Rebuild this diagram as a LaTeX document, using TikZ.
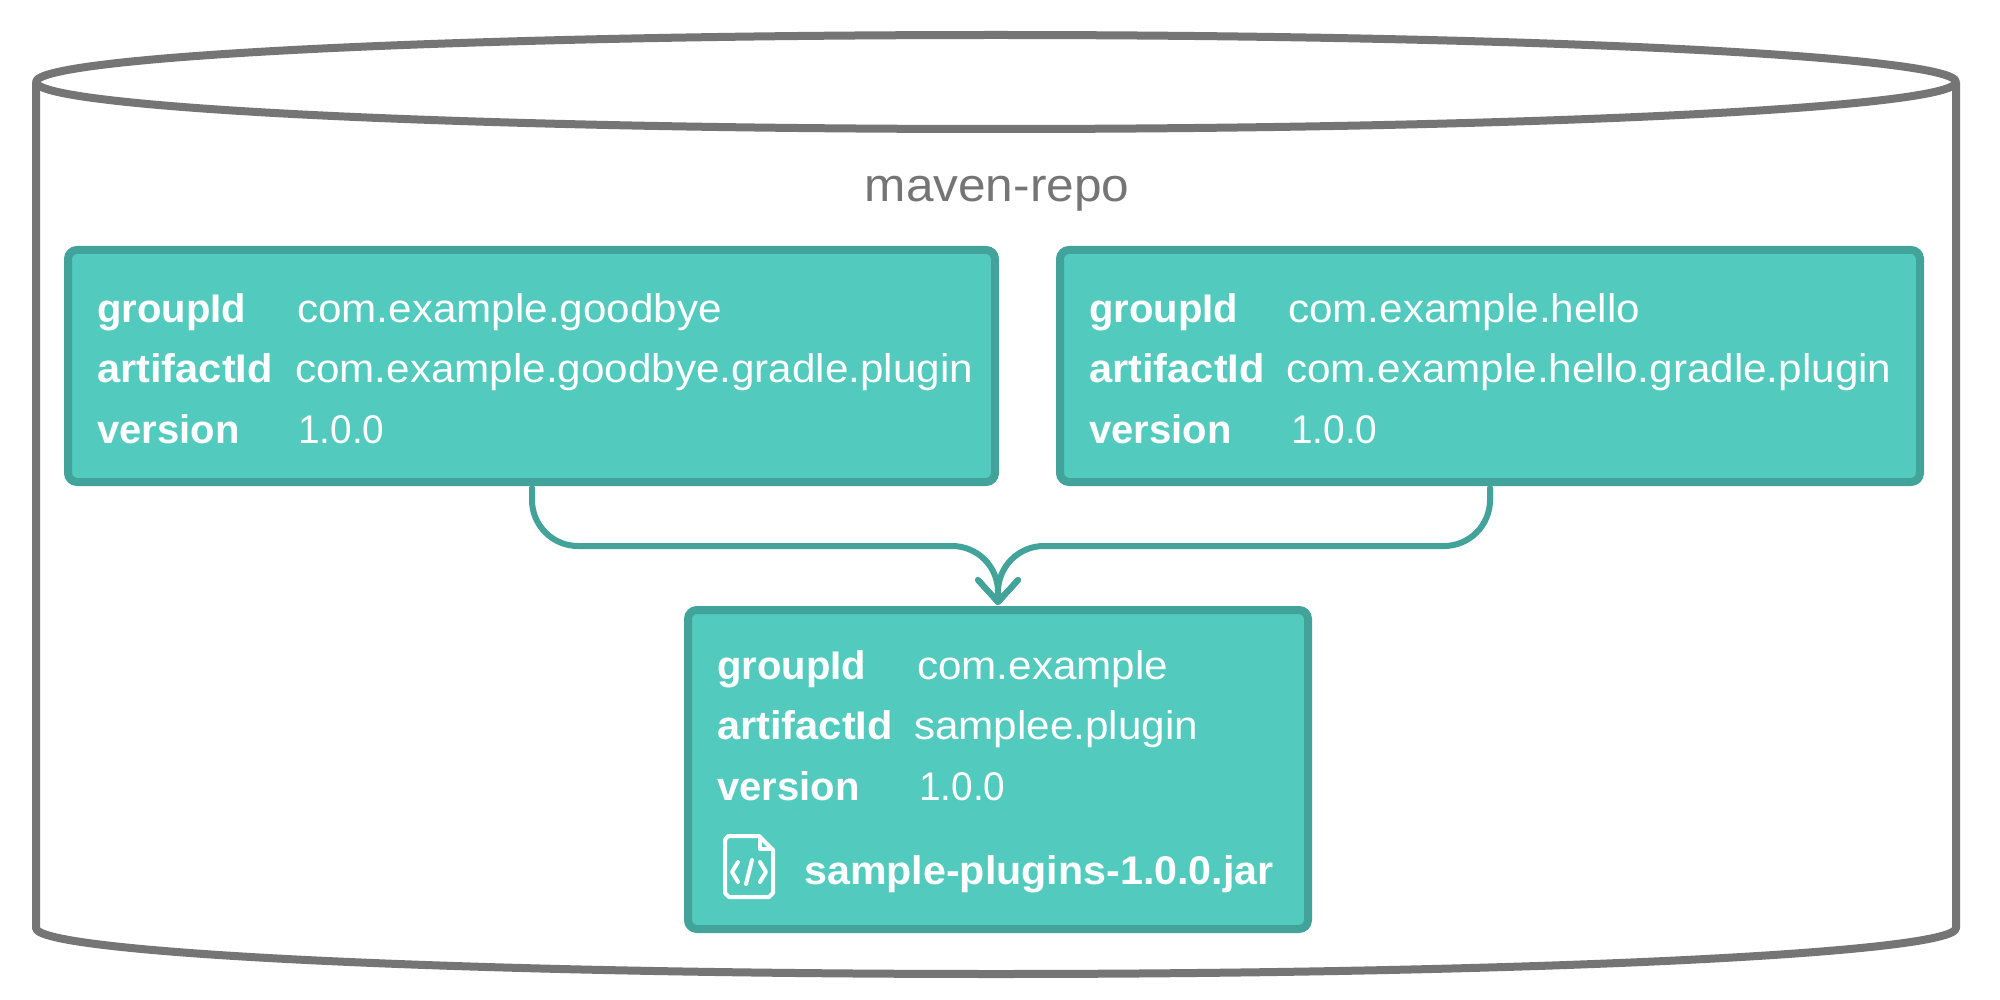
\documentclass[tikz,border=0pt]{standalone}
\usepackage{fontspec}
\setmainfont{Liberation Sans}
\newfontfamily\valfont[FakeStretch=1.055]{Liberation Sans}
\newfontfamily\numfont[FakeStretch=0.97]{Liberation Sans}
\newfontfamily\keyfont[FakeStretch=1.04]{Liberation Sans}
\newfontfamily\jarfont[FakeStretch=1.03]{Liberation Sans}
\usetikzlibrary{arrows.meta}
\definecolor{cyl}{HTML}{757575}
\definecolor{boxfill}{HTML}{52CBBE}
\definecolor{boxline}{HTML}{41A399}
\tikzset{
  box/.style={draw=boxline,fill=boxfill,line width=8pt,rounded corners=9pt,inner sep=0pt,outer sep=0pt},
  keytxt/.style={anchor=base west,inner sep=0pt,text=white,font=\keyfont\fontsize{40}{40}\selectfont\bfseries},
  shortkey/.style={anchor=base west,inner sep=0pt,text=white,font=\fontsize{40}{40}\selectfont\bfseries},
  jartxt/.style={anchor=base west,inner sep=0pt,text=white,font=\jarfont\fontsize{40}{40}\selectfont\bfseries},
  valtxt/.style={anchor=base west,inner sep=0pt,text=white,font=\valfont\fontsize{40}{40}\selectfont},
  numtxt/.style={anchor=base west,inner sep=0pt,text=white,font=\numfont\fontsize{40}{40}\selectfont},
  conn/.style={draw=boxline,line width=6pt,line cap=round,rounded corners=46pt,
    -{Straight Barb[length=22pt,width=40pt,round]}},
  cylline/.style={draw=cyl,line width=8pt,line join=round},
  iconline/.style={draw=white,line width=4pt,line cap=round,line join=round}
}
\begin{document}
\begin{tikzpicture}[x=1pt,y=-1pt]
\useasboundingbox[fill=white] (0,0) rectangle (2000,1000);
% cylinder
\draw[cylline] (36,82) -- (36,928) arc[start angle=180,end angle=0,x radius=960,y radius=46] -- (1956,82);
\draw[cylline] (996,82) ellipse[x radius=960,y radius=47];
\node[anchor=base,inner sep=0pt,text=cyl,font=\valfont\fontsize{47}{47}\selectfont] (title) at (997,202) {maven-repo};
% boxes
\node[box,minimum width=927pt,minimum height=232pt] (left) at (531.5,366) {};
\node[box,minimum width=860pt,minimum height=232pt] (right) at (1490,366) {};
\node[box,minimum width=620pt,minimum height=319pt] (mid) at (998,769.5) {};
% left text
\node[shortkey] (lk1) at (97,323) {groupId};
\node[keytxt] (lk2) at (97,382) {artifactId};
\node[shortkey] (lk3) at (97,443) {version};
\node[valtxt] (lv1) at (297,323) {com.example.goodbye};
\node[valtxt] (lv2) at (295,382) {com.example.goodbye.gradle.plugin};
\node[numtxt] (lv3) at (298,443) {1.0.0};
% right text
\node[shortkey] (rk1) at (1089,323) {groupId};
\node[keytxt] (rk2) at (1089,382) {artifactId};
\node[shortkey] (rk3) at (1089,443) {version};
\node[valtxt] (rv1) at (1288,323) {com.example.hello};
\node[valtxt] (rv2) at (1286,382) {com.example.hello.gradle.plugin};
\node[numtxt] (rv3) at (1291,443) {1.0.0};
% mid text
\node[shortkey] (mk1) at (717,679) {groupId};
\node[keytxt] (mk2) at (717,739) {artifactId};
\node[shortkey] (mk3) at (717,800) {version};
\node[valtxt] (mv1) at (917,679) {com.example};
\node[valtxt] (mv2) at (914,739) {samplee.plugin};
\node[numtxt] (mv3) at (919,800) {1.0.0};
\node[jartxt] (jar) at (804,884) {sample-plugins-1.0.0.jar};
% icon
\draw[iconline] (728,836) -- (759,836) -- (773,850) -- (773,893) -- (769,897) -- (729,897) -- (725,893) -- (725,840) -- cycle;
\draw[iconline] (760,837) -- (760,849) -- (772,849);
\draw[iconline] (738,862) -- (732,872) -- (738,882);
\draw[iconline] (760,862) -- (766,872) -- (760,882);
\draw[iconline] (752,860) -- (746,884);
% connectors
\coordinate (sl) at (532,488);
\coordinate (sr) at (1490,488);
\coordinate (bus) at (998,546);
\draw[conn,shorten >=5pt] (sl) -- (sl |- bus) -- (bus -| mid.north) -- (mid.north);
\draw[conn,shorten >=5pt] (sr) -- (sr |- bus) -- (bus -| mid.north) -- (mid.north);
\end{tikzpicture}
\end{document}
